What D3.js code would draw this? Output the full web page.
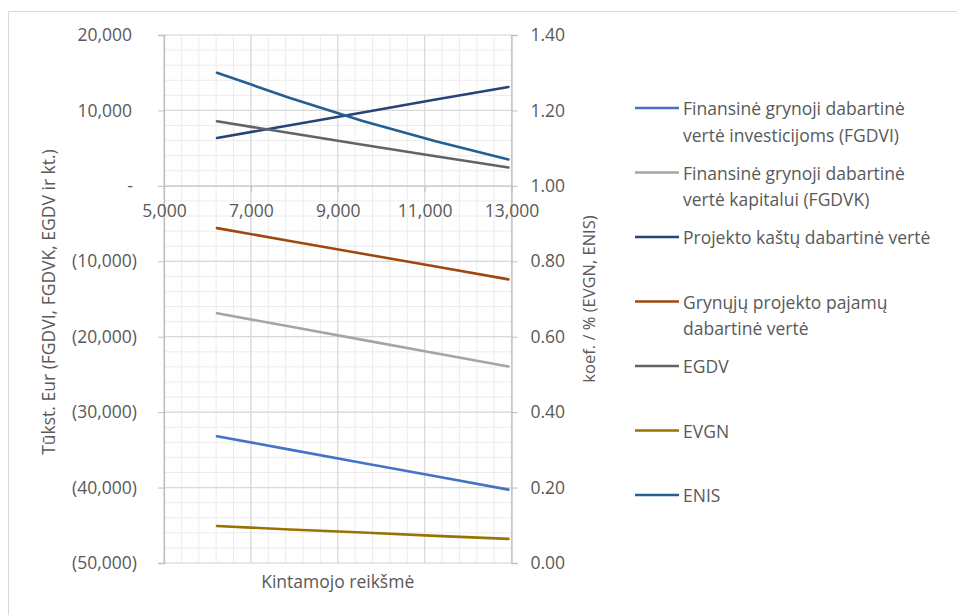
<!DOCTYPE html>
<html>
<head>
<meta charset="utf-8">
<script src="https://cdn.jsdelivr.net/npm/d3@7"></script>
<style>
  html, body { margin: 0; padding: 0; background: #fff; }
  svg { display: block; }
  text { font-family: "Open Sans", "Noto Sans", sans-serif; fill: #595959; }
</style>
</head>
<body>
<svg id="chart" width="957" height="615"></svg>
<script>
// Sensitivity of project indicators to the varied input value
const xValues = [6220, 7900, 9575, 11255, 12930];

const fgdvi = [-33200, -34970, -36740, -38500, -40270];
const fgdvk = [-16880, -18650, -20420, -22190, -23950];
const projektoKastai = [6340, 8040, 9730, 11440, 13110];
const grynosiosPajamos = [-5600, -7300, -9000, -10700, -12400];
const egdv = [8560, 7000, 5450, 3930, 2430];
const evgn = [0.098, 0.089, 0.081, 0.072, 0.064];
const enis = [1.300, 1.233, 1.172, 1.118, 1.070];

const seriesNames = [
  ["Finansinė grynoji dabartinė", "vertė investicijoms (FGDVI)"],
  ["Finansinė grynoji dabartinė", "vertė kapitalui (FGDVK)"],
  ["Projekto kaštų dabartinė vertė"],
  ["Grynųjų projekto pajamų", "dabartinė vertė"],
  ["EGDV"],
  ["EVGN"],
  ["ENIS"]
];

const xTicks = [5000, 7000, 9000, 11000, 13000];
const yLeftTicks = [20000, 10000, 0, -10000, -20000, -30000, -40000, -50000];
const yRightTicks = [1.4, 1.2, 1.0, 0.8, 0.6, 0.4, 0.2, 0.0];

const xTitle = "Kintamojo reikšmė";
const yLeftTitle = "Tūkst. Eur (FGDVI, FGDVK, EGDV ir kt.)";
const yRightTitle = "koef. / % (EVGN, ENIS)";

const series = [
  { values: fgdvi, axis: "left", color: "#4472C4" },
  { values: fgdvk, axis: "left", color: "#A5A5A5" },
  { values: projektoKastai, axis: "left", color: "#264478" },
  { values: grynosiosPajamos, axis: "left", color: "#9E480E" },
  { values: egdv, axis: "left", color: "#636363" },
  { values: evgn, axis: "right", color: "#997300" },
  { values: enis, axis: "right", color: "#255E91" }
].map((s, i) => ({ ...s, name: seriesNames[i] }));

const FONT = 17.5;
const svg = d3.select("#chart");

// outer chart frame (top and left edges visible)
svg.append("line").attr("x1", 8.5).attr("x2", 957).attr("y1", 11.5).attr("y2", 11.5)
  .attr("stroke", "#d9d9d9");
svg.append("line").attr("x1", 8.5).attr("x2", 8.5).attr("y1", 11.5).attr("y2", 615)
  .attr("stroke", "#d9d9d9");

const plot = { left: 164, right: 511.5, top: 35, bottom: 563 };

const x = d3.scaleLinear().domain([5000, 13000]).range([plot.left, plot.right]);
const yL = d3.scaleLinear().domain([-50000, 20000]).range([plot.bottom, plot.top]);
const yR = d3.scaleLinear().domain([0, 1.4]).range([plot.bottom, plot.top]);

// minor gridlines
const g = svg.append("g");
g.selectAll(".vminor").data(d3.range(5000, 13001, 400)).join("line")
  .attr("x1", d => x(d)).attr("x2", d => x(d))
  .attr("y1", plot.top).attr("y2", plot.bottom)
  .attr("stroke", "#ececec").attr("stroke-width", 1);
g.selectAll(".hminor").data(d3.range(-50000, 20001, 2000)).join("line")
  .attr("x1", plot.left).attr("x2", plot.right)
  .attr("y1", d => yL(d)).attr("y2", d => yL(d))
  .attr("stroke", "#ececec").attr("stroke-width", 1);
// major gridlines
g.selectAll(".vmajor").data(xTicks).join("line")
  .attr("x1", d => x(d)).attr("x2", d => x(d))
  .attr("y1", plot.top).attr("y2", plot.bottom)
  .attr("stroke", "#d9d9d9").attr("stroke-width", 1.2);
g.selectAll(".hmajor").data(yLeftTicks).join("line")
  .attr("x1", plot.left).attr("x2", plot.right)
  .attr("y1", d => yL(d)).attr("y2", d => yL(d))
  .attr("stroke", "#d9d9d9").attr("stroke-width", 1.2);

// left value axis
const fmtLeft = d => d === 0 ? "-" : (d < 0 ? "(" + d3.format(",")(-d) + ")" : d3.format(",")(d));
const axL = svg.append("g").attr("transform", `translate(${plot.left},0)`)
  .call(d3.axisLeft(yL).tickValues(yLeftTicks).tickFormat(fmtLeft).tickSize(6).tickPadding(21));
axL.select(".domain").attr("stroke", "#bfbfbf").attr("stroke-width", 1.3);
axL.selectAll(".tick line").attr("stroke", "#bfbfbf");
axL.selectAll(".tick text")
  .attr("font-size", FONT).attr("font-family", null).attr("fill", "#595959")
  .attr("x", d => d < 0 ? -27 : (d === 0 ? -31 : -32));

// right value axis
const axR = svg.append("g").attr("transform", `translate(${plot.right},0)`)
  .call(d3.axisRight(yR).tickValues(yRightTicks).tickFormat(d3.format(".2f")).tickSize(6).tickPadding(13));
axR.select(".domain").attr("stroke", "#bfbfbf").attr("stroke-width", 1.3);
axR.selectAll(".tick line").attr("stroke", "#bfbfbf");
axR.selectAll(".tick text").attr("font-size", FONT).attr("font-family", null).attr("fill", "#595959");

// horizontal axis crossing at zero
const axX = svg.append("g").attr("transform", `translate(0,${yL(0)})`)
  .call(d3.axisBottom(x).tickValues(xTicks).tickFormat(d3.format(",")).tickSize(6).tickPadding(13));
axX.select(".domain").attr("stroke", "#d0d0d0").attr("stroke-width", 1.2);
axX.selectAll(".tick line").attr("stroke", "#bfbfbf");
axX.selectAll(".tick text").attr("font-size", FONT).attr("font-family", null).attr("fill", "#595959");

// series lines
const lines = svg.append("g");
series.forEach(s => {
  const yS = s.axis === "left" ? yL : yR;
  const line = d3.line().x((d, i) => x(xValues[i])).y(d => yS(d));
  lines.append("path").datum(s.values)
    .attr("d", line)
    .attr("fill", "none")
    .attr("stroke", s.color)
    .attr("stroke-width", 2.6)
    .attr("stroke-linecap", "round")
    .attr("stroke-linejoin", "round");
});

// axis titles
svg.append("text").attr("x", (plot.left + plot.right) / 2).attr("y", 588)
  .attr("text-anchor", "middle").attr("font-size", FONT).text(xTitle);
svg.append("text").attr("transform", `translate(48,${(plot.top + plot.bottom) / 2 + 3}) rotate(-90)`)
  .attr("text-anchor", "middle").attr("dominant-baseline", "central")
  .attr("font-size", 17.5).text(yLeftTitle);
svg.append("text").attr("transform", `translate(588,${(plot.top + plot.bottom) / 2}) rotate(-90)`)
  .attr("text-anchor", "middle").attr("dominant-baseline", "central")
  .attr("font-size", 16.5).text(yRightTitle);

// legend
const legend = svg.append("g");
const legendTop = 108, legendStep = 64.5, legendLineH = 26.5;
series.forEach((s, i) => {
  const yy = legendTop + i * legendStep;
  legend.append("line").attr("x1", 635).attr("x2", 679).attr("y1", yy).attr("y2", yy)
    .attr("stroke", s.color).attr("stroke-width", 2.6);
  const t = legend.append("text").attr("x", 683).attr("y", yy)
    .attr("font-size", FONT).attr("dominant-baseline", "central");
  s.name.forEach((ln, j) => {
    t.append("tspan").attr("x", 683).attr("y", yy + j * legendLineH).text(ln);
  });
});
</script>
</body>
</html>
